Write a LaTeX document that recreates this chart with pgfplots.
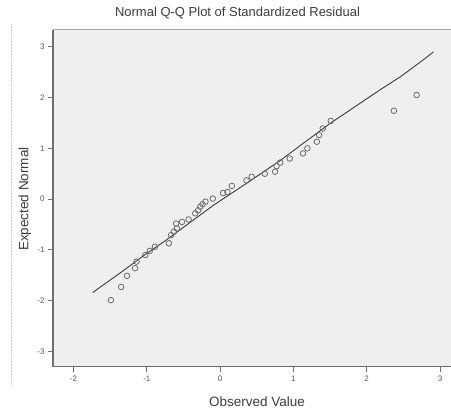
\documentclass[border=0pt]{standalone}
\usepackage{fontspec}
\setmainfont{Liberation Sans}
\usepackage{pgfplots}
\pgfplotsset{compat=1.18}
\definecolor{plotbg}{HTML}{EFEFEF}
\definecolor{axisgray}{HTML}{6E6E6E}
\definecolor{markgray}{HTML}{6A6A6A}
\definecolor{linegray}{HTML}{3C3C3C}
\definecolor{ticktext}{HTML}{555555}

\begin{document}
\begin{tikzpicture}
\begin{axis}[
  scale only axis,
  width=398pt, height=337.2pt,
  xmin=-2.28, xmax=3.15, ymin=-3.30, ymax=3.34,
  axis background/.style={fill=plotbg},
  axis x line*=bottom, axis y line*=left,
  axis line style={axisgray, line width=1.4pt},
  xtick={-2,-1,0,1,2,3}, ytick={-3,-2,-1,0,1,2,3},
  tick align=outside, major tick length=5pt,
  tick style={axisgray, line width=0.8pt},
  ticklabel style={font=\fontsize{8}{9}\selectfont, text=ticktext},
  xticklabel style={yshift=-1pt},
  /pgf/number format/assume math mode=true,
  title={Normal Q-Q Plot of Standardized Residual},
  title style={at={(0.4636,1.031)}, anchor=center, font=\fontsize{13}{15}\selectfont, text=linegray},
  xlabel={Observed Value},
  xlabel style={at={(0.5126,-0.105)}, anchor=center, font=\fontsize{13.5}{15}\selectfont, text=linegray},
  ylabel={Expected Normal},
  ylabel style={at={(-0.0704,0.497)}, anchor=center, font=\fontsize{13.5}{15}\selectfont, text=linegray},
  clip=true,
]
% top border of the plot frame
\draw[gray!70, line width=0.9pt] (rel axis cs:0,1) -- (rel axis cs:1,1);
% reference line
\addplot[linegray, line width=0.9pt] coordinates {
 (-1.74,-1.84)(-1.34,-1.43)(-1.05,-1.12)(-0.73,-0.80)(-0.41,-0.46)(-0.09,-0.12)
 (0.36,0.31)(0.82,0.76)(1.07,1.03)(1.50,1.49)(2.18,2.15)(2.46,2.41)(2.77,2.74)(2.91,2.90)
};
% observed points
\addplot[only marks, mark=o, mark size=2.8pt, mark options={markgray, line width=0.8pt}] coordinates {
 (-1.49,-1.99)(-1.35,-1.73)(-1.27,-1.51)(-1.16,-1.36)(-1.14,-1.23)(-1.02,-1.10)
 (-0.96,-1.02)(-0.89,-0.94)(-0.70,-0.87)(-0.67,-0.71)(-0.63,-0.64)(-0.59,-0.58)
 (-0.60,-0.48)(-0.52,-0.45)(-0.43,-0.40)(-0.34,-0.28)(-0.30,-0.22)(-0.27,-0.15)
 (-0.24,-0.10)(-0.20,-0.05)(-0.10,0.01)(0.04,0.12)(0.10,0.14)(0.16,0.26)
 (0.36,0.37)(0.43,0.44)(0.61,0.50)(0.75,0.54)(0.77,0.65)(0.82,0.72)(0.95,0.80)
 (1.13,0.90)(1.19,1.00)(1.32,1.13)(1.35,1.26)(1.40,1.39)(1.51,1.54)
 (2.37,1.74)(2.68,2.05)
};
\end{axis}
% faint dotted frame line at the left
\draw[gray!40, densely dotted, line width=0.5pt]
  ([xshift=-42pt,yshift=5pt]current axis.north west) -- ([xshift=-42pt,yshift=-18pt]current axis.south west);
\pgfresetboundingbox
\path ([xshift=-53pt,yshift=-43.3pt]current axis.south west) rectangle ([yshift=29.5pt]current axis.north east);
\end{tikzpicture}
\end{document}
